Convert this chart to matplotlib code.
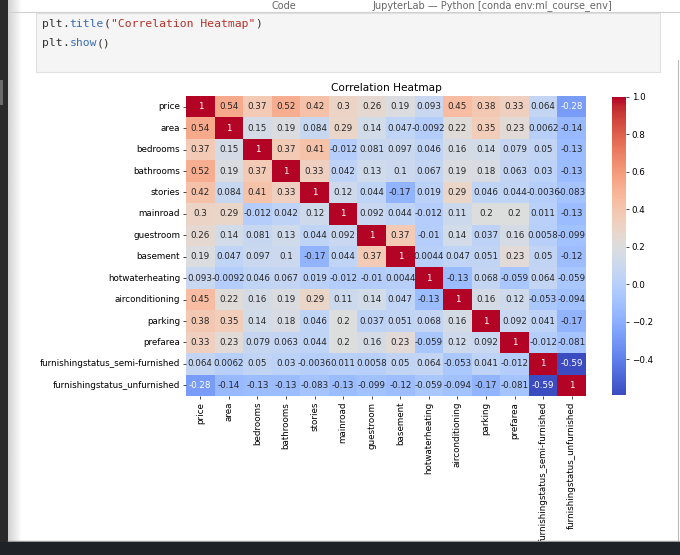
import matplotlib
matplotlib.use("Agg")
import matplotlib.pyplot as plt
import numpy as np
import pandas as pd
import seaborn as sns
from matplotlib.patches import Rectangle

labels = ["price", "area", "bedrooms", "bathrooms", "stories", "mainroad",
          "guestroom", "basement", "hotwaterheating", "airconditioning",
          "parking", "prefarea", "furnishingstatus_semi-furnished",
          "furnishingstatus_unfurnished"]

# correlation rows
r_price = [1, 0.54, 0.37, 0.52, 0.42, 0.3, 0.26, 0.19, 0.093, 0.45, 0.38, 0.33, 0.064, -0.28]
r_area = [0.54, 1, 0.15, 0.19, 0.084, 0.29, 0.14, 0.047, -0.0092, 0.22, 0.35, 0.23, 0.0062, -0.14]
r_bedrooms = [0.37, 0.15, 1, 0.37, 0.41, -0.012, 0.081, 0.097, 0.046, 0.16, 0.14, 0.079, 0.05, -0.13]
r_bathrooms = [0.52, 0.19, 0.37, 1, 0.33, 0.042, 0.13, 0.1, 0.067, 0.19, 0.18, 0.063, 0.03, -0.13]
r_stories = [0.42, 0.084, 0.41, 0.33, 1, 0.12, 0.044, -0.17, 0.019, 0.29, 0.046, 0.044, -0.0036, -0.083]
r_mainroad = [0.3, 0.29, -0.012, 0.042, 0.12, 1, 0.092, 0.044, -0.012, 0.11, 0.2, 0.2, 0.011, -0.13]
r_guestroom = [0.26, 0.14, 0.081, 0.13, 0.044, 0.092, 1, 0.37, -0.01, 0.14, 0.037, 0.16, 0.0058, -0.099]
r_basement = [0.19, 0.047, 0.097, 0.1, -0.17, 0.044, 0.37, 1, 0.0044, 0.047, 0.051, 0.23, 0.05, -0.12]
r_hotwater = [0.093, -0.0092, 0.046, 0.067, 0.019, -0.012, -0.01, 0.0044, 1, -0.13, 0.068, -0.059, 0.064, -0.059]
r_aircon = [0.45, 0.22, 0.16, 0.19, 0.29, 0.11, 0.14, 0.047, -0.13, 1, 0.16, 0.12, -0.053, -0.094]
r_parking = [0.38, 0.35, 0.14, 0.18, 0.046, 0.2, 0.037, 0.051, 0.068, 0.16, 1, 0.092, 0.041, -0.17]
r_prefarea = [0.33, 0.23, 0.079, 0.063, 0.044, 0.2, 0.16, 0.23, -0.059, 0.12, 0.092, 1, -0.012, -0.081]
r_semi = [0.064, 0.0062, 0.05, 0.03, -0.0036, 0.011, 0.0058, 0.05, 0.064, -0.053, 0.041, -0.012, 1, -0.59]
r_unfurn = [-0.28, -0.14, -0.13, -0.13, -0.083, -0.13, -0.099, -0.12, -0.059, -0.094, -0.17, -0.081, -0.59, 1]

code_lines = ['plt.title("Correlation Heatmap")', 'plt.show()']

corr = pd.DataFrame([r_price, r_area, r_bedrooms, r_bathrooms, r_stories,
                     r_mainroad, r_guestroom, r_basement, r_hotwater, r_aircon,
                     r_parking, r_prefarea, r_semi, r_unfurn],
                    index=labels, columns=labels)

W, H = 680, 555
fig = plt.figure(figsize=(W / 100, H / 100), dpi=100)


def box(x0, y0, x1, y1):
    # pixel box (top-left origin) -> figure fraction rect
    return [x0 / W, 1 - y1 / H, (x1 - x0) / W, (y1 - y0) / H]


def fx(x):
    return x / W


def fy(y):
    return 1 - y / H


# --- notebook chrome ---
fig.add_artist(Rectangle((0, 0), 1, 1, transform=fig.transFigure,
                         facecolor="white", zorder=-5))
fig.add_artist(Rectangle((fx(36), fy(72)), fx(660) - fx(36), fy(13) - fy(72),
                         transform=fig.transFigure, facecolor="#f5f5f5",
                         edgecolor="#e0e0e0", lw=0.8, zorder=-4))
fig.add_artist(plt.Line2D([fx(8), 1], [fy(12), fy(12)], transform=fig.transFigure,
                          color="#d0d0d0", lw=0.8))
fig.text(fx(372), fy(6), "JupyterLab \u2014 Python [conda env:ml_course_env]",
         fontsize=7, color="#666666", va="center")
fig.text(fx(272), fy(6), "Code", fontsize=7, color="#666666", va="center")

# left dark strip with a soft shadow
fig.add_artist(Rectangle((0, 0), fx(8), 1, transform=fig.transFigure,
                         facecolor="#2a2a2a", zorder=5))
fig.add_artist(Rectangle((0, fy(105)), fx(3), fy(80) - fy(105), transform=fig.transFigure,
                         facecolor="#6a6a6a", zorder=6))
shadow = fig.add_axes(box(8, 0, 22, 542))
shadow.imshow(np.linspace(0.82, 1.0, 50)[None, :], cmap="gray", vmin=0, vmax=1,
              aspect="auto")
shadow.axis("off")
shadow.set_zorder(-3)

# code cell text, coloured like the editor
cw = 6.88
colors = {"plt": "#333333", ".": "#333333", "title": "#3b6cb0", "show": "#3b6cb0",
          "(": "#333333", ")": "#333333", "str": "#b5312a"}
segments = [[("plt", "plt"), (".", "."), ("title", "title"), ("(", "("),
             ('"Correlation Heatmap"', "str"), (")", ")")],
            [("plt", "plt"), (".", "."), ("show", "show"), ("()", "(")]]
for line_y, segs in zip([24, 43], segments):
    col = 0
    for txt, kind in segs:
        fig.text(fx(42 + col * cw), fy(line_y), txt, family="DejaVu Sans Mono",
                 fontsize=8.2, color=colors[kind], va="center")
        col += len(txt)

# --- heatmap ---
ax = fig.add_axes(box(186, 96, 586, 396))
cax = fig.add_axes(box(612, 97, 626, 395))
sns.heatmap(corr, annot=True, cmap="coolwarm", ax=ax, cbar_ax=cax,
            annot_kws={"size": 6.3})
ax.set_title("Correlation Heatmap", fontsize=7.6, pad=3.5)
ax.set_xticks(np.arange(len(labels)) + 0.5)
ax.set_xticklabels(labels, rotation=90, fontsize=6.3)
ax.set_yticks(np.arange(len(labels)) + 0.5)
ax.set_yticklabels(labels, rotation=0, fontsize=6.3)
ax.tick_params(length=2.2, width=0.5, pad=2)
cax.tick_params(labelsize=6.3, length=2.2, width=0.5, pad=2)

# taskbar covering the bottom
fig.add_artist(plt.Line2D([fx(8), 1], [fy(541), fy(541)], transform=fig.transFigure,
                          color="#9a9a9a", lw=1, zorder=9))
fig.add_artist(Rectangle((0, 0), 1, fy(542), transform=fig.transFigure,
                         facecolor="#1f2227", zorder=10))
fig.add_artist(plt.Line2D([fx(678), fx(678)], [fy(540), fy(60)], transform=fig.transFigure,
                          color="#bbbbbb", lw=0.8, zorder=9))

fig.savefig("out.png", dpi=100)
